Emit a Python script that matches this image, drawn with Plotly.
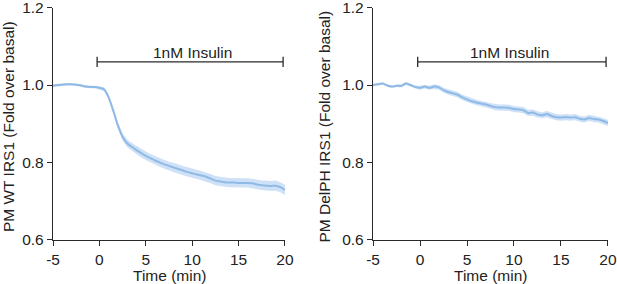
import plotly.graph_objects as go

# ---- data ----
time_min = [-5, -4.5, -4, -3.5, -3, -2.5, -2, -1.5, -1, -0.5, 0, 0.5, 1, 1.5, 2, 2.5, 3, 3.5, 4, 4.5,
            5, 5.5, 6, 6.5, 7, 7.5, 8, 8.5, 9, 9.5, 10, 10.5, 11, 11.5, 12, 12.5, 13, 13.5, 14, 14.5,
            15, 15.5, 16, 16.5, 17, 17.5, 18, 18.5, 19, 19.5, 20]

wt_mean = [0.998, 1.000, 1.001, 1.002, 1.002, 1.001, 0.999, 0.996, 0.995, 0.995, 0.993, 0.989, 0.968,
           0.933, 0.895, 0.866, 0.849, 0.840, 0.832, 0.824, 0.817, 0.811, 0.805, 0.800, 0.795, 0.791,
           0.787, 0.783, 0.779, 0.775, 0.772, 0.769, 0.766, 0.763, 0.758, 0.753, 0.751, 0.749, 0.748,
           0.748, 0.747, 0.747, 0.747, 0.746, 0.743, 0.741, 0.740, 0.739, 0.740, 0.736, 0.729]
wt_sem = [0.003, 0.003, 0.003, 0.003, 0.003, 0.003, 0.003, 0.003, 0.003, 0.003, 0.004, 0.005, 0.006,
          0.007, 0.008, 0.009, 0.010, 0.010, 0.010, 0.011, 0.011, 0.011, 0.011, 0.011, 0.011, 0.011,
          0.012, 0.012, 0.012, 0.012, 0.012, 0.012, 0.012, 0.012, 0.012, 0.012, 0.012, 0.012, 0.012,
          0.012, 0.012, 0.012, 0.012, 0.012, 0.012, 0.012, 0.013, 0.013, 0.013, 0.013, 0.013]

delph_mean = [1.000, 1.002, 1.004, 0.999, 0.996, 0.998, 0.998, 1.004, 1.000, 0.995, 0.993, 0.996, 0.993,
              0.996, 0.994, 0.987, 0.982, 0.979, 0.975, 0.968, 0.963, 0.958, 0.955, 0.952, 0.950, 0.946,
              0.943, 0.942, 0.942, 0.941, 0.938, 0.937, 0.935, 0.928, 0.929, 0.924, 0.922, 0.925, 0.920,
              0.917, 0.916, 0.917, 0.916, 0.917, 0.913, 0.911, 0.915, 0.912, 0.911, 0.907, 0.902]
delph_sem = [0.003, 0.003, 0.003, 0.003, 0.003, 0.003, 0.004, 0.004, 0.004, 0.004, 0.005, 0.005, 0.005,
             0.006, 0.006, 0.006, 0.007, 0.007, 0.007, 0.007, 0.007, 0.007, 0.007, 0.007, 0.007, 0.007,
             0.008, 0.008, 0.008, 0.008, 0.008, 0.008, 0.008, 0.008, 0.008, 0.008, 0.008, 0.008, 0.008,
             0.008, 0.008, 0.008, 0.008, 0.008, 0.008, 0.008, 0.008, 0.008, 0.008, 0.008, 0.008]

y_titles = ["PM WT IRS1 (Fold over basal)", "PM DelPH IRS1 (Fold over basal)"]
x_title = "Time (min)"
stim_label = "1nM Insulin"
stim_start, stim_end, stim_level, label_level = -0.25, 19.8, 1.060, 1.085
x_ticks = [-5, 0, 5, 10, 15, 20]
x_tick_text = ["-5", "0", "5", "10", "15", "20"]
y_ticks = [0.6, 0.8, 1.0, 1.2]
y_tick_text = ["0.6", "0.8", "1.0", "1.2"]

# ---- style ----
LINE = "#90bae6"
BAND = "rgba(165,200,238,0.55)"
AX = "#2a2a2a"
FONT = "Liberation Sans, Arial, sans-serif"
FS = 15.5

W, H = 617, 284
fig = go.Figure()

panels = [
    dict(mean=wt_mean, sem=wt_sem, xa="x", ya="y", dom=[53 / W, 285 / W], title_x=8.5 / W, lab_x=10),
    dict(mean=delph_mean, sem=delph_sem, xa="x2", ya="y2", dom=[373 / W, 608 / W], title_x=325 / W, lab_x=9.5),
]
ydom = [1 - 240 / H, 1 - 7.5 / H]

for i, p in enumerate(panels):
    upper = [m + s for m, s in zip(p["mean"], p["sem"])]
    lower = [m - s for m, s in zip(p["mean"], p["sem"])]
    fig.add_trace(go.Scatter(x=time_min + time_min[::-1], y=upper + lower[::-1], fill="toself",
                             fillcolor=BAND, line=dict(width=0), mode="lines", hoverinfo="skip",
                             showlegend=False, xaxis=p["xa"], yaxis=p["ya"]))
    fig.add_trace(go.Scatter(x=time_min, y=p["mean"], mode="lines",
                             line=dict(color=LINE, width=2, shape="spline", smoothing=0.6),
                             showlegend=False, xaxis=p["xa"], yaxis=p["ya"]))
    sfx = "" if i == 0 else "2"
    axis_common = dict(showline=True, linecolor=AX, linewidth=1.3, ticks="outside", ticklen=5,
                       tickwidth=1.3, tickcolor=AX, showgrid=False, zeroline=False, automargin=False,
                       ticklabeloverflow="allow",
                       tickfont=dict(family=FONT, size=FS, color="#222"))
    fig.update_layout(**{
        "xaxis" + sfx: dict(domain=p["dom"], range=[-5.005, 20.005], tickvals=x_ticks, ticktext=x_tick_text,
                            anchor="y" + sfx, **axis_common),
        "yaxis" + sfx: dict(domain=ydom, range=[0.5995, 1.2005], tickvals=y_ticks, ticktext=y_tick_text,
                            anchor="x" + sfx, **axis_common),
    })
    xr, yr = p["xa"], p["ya"]
    cap = 0.013
    for x0, y0, x1, y1 in [(stim_start, stim_level, stim_end, stim_level),
                           (stim_start, stim_level - cap, stim_start, stim_level + cap),
                           (stim_end, stim_level - cap, stim_end, stim_level + cap)]:
        fig.add_shape(type="line", x0=x0, y0=y0, x1=x1, y1=y1, xref=xr, yref=yr,
                      line=dict(color=AX, width=1.3))
    fig.add_annotation(x=p["lab_x"], y=label_level, xref=xr, yref=yr, text=stim_label, showarrow=False,
                       xanchor="center", yanchor="middle",
                       font=dict(family=FONT, size=FS, color="#222"))
    fig.add_annotation(x=p["title_x"], y=(ydom[0] + ydom[1]) / 2 - 0.01, xref="paper", yref="paper",
                       text=y_titles[i], textangle=-90, showarrow=False, xanchor="center", yanchor="middle",
                       font=dict(family=FONT, size=FS, color="#222"))
    fig.add_annotation(x=(p["dom"][0] + p["dom"][1]) / 2, y=1 - 275 / H, xref="paper", yref="paper",
                       text=x_title, showarrow=False, xanchor="center", yanchor="middle",
                       font=dict(family=FONT, size=FS, color="#222"))

fig.update_layout(width=W, height=H, margin=dict(l=0, r=0, t=0, b=0),
                  plot_bgcolor="white", paper_bgcolor="white")
fig.write_html("out.html", config={"displayModeBar": False},
               post_script="document.body.style.margin='0';document.body.style.overflow='hidden';")
